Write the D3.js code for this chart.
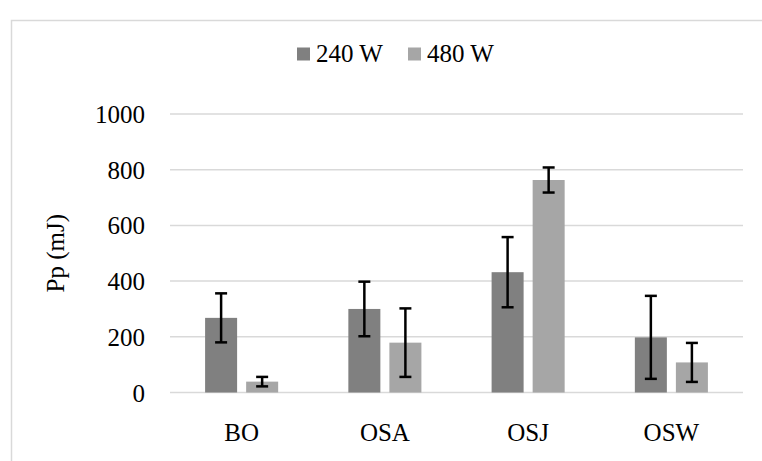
<!DOCTYPE html>
<html>
<head>
<meta charset="utf-8">
<script src="https://cdn.jsdelivr.net/npm/d3@7"></script>
<style>
  html, body { margin: 0; padding: 0; background: #fff; }
</style>
</head>
<body>
<div id="chart"></div>
<script>
// categories and series
const categories = ['BO', 'OSA', 'OSJ', 'OSW'];
const seriesNames = ['240 W', '480 W'];
const seriesColors = ['#808080', '#a6a6a6'];
const values240 = [268, 300, 432, 198];
const values480 = [39, 179, 763, 108];
const err240 = [88, 98, 126, 149];
const err480 = [17, 123, 45, 70];
const yTicks = [0, 200, 400, 600, 800, 1000];

const W = 762, H = 461;
const M = { top: 114, right: 19, bottom: 68.5, left: 170 };
const innerW = W - M.left - M.right, innerH = H - M.top - M.bottom;
const FS = 25;
const FONT = '"Liberation Serif"';

const svg = d3.select('#chart').append('svg').attr('width', W).attr('height', H);

// outer chart frame (cropped on right/bottom)
svg.append('path')
  .attr('d', `M11.5,${H} V20.5 H${W}`)
  .attr('fill', 'none').attr('stroke', '#d9d9d9').attr('stroke-width', 1.5);

const g = svg.append('g').attr('transform', `translate(${M.left},${M.top})`);

const x0 = d3.scaleBand().domain(categories).range([0, innerW]).paddingInner(0.49).paddingOuter(0.245);
const x1 = d3.scaleBand().domain(seriesNames).range([0, x0.bandwidth()]).paddingInner(0.22);
const y = d3.scaleLinear().domain([0, 1000]).range([innerH, 0]);

// gridlines
g.append('g')
  .selectAll('line').data(yTicks).join('line')
  .attr('x1', 0).attr('x2', innerW)
  .attr('y1', d => y(d)).attr('y2', d => y(d))
  .attr('stroke', '#d9d9d9').attr('stroke-width', 1.5);

// y axis labels
const yAx = g.append('g').attr('transform', 'translate(-25,0)')
  .call(d3.axisLeft(y).tickValues(yTicks).tickFormat(d3.format('d')).tickSize(0).tickPadding(0));
yAx.select('.domain').remove();
yAx.selectAll('text').style('font-family', FONT).attr('font-size', FS).attr('fill', '#000').attr('dy', '0.34em');

// x axis labels
const xAx = g.append('g').attr('transform', `translate(0,${innerH})`)
  .call(d3.axisBottom(x0).tickSize(0).tickPadding(31));
xAx.select('.domain').remove();
xAx.selectAll('text').style('font-family', FONT).attr('font-size', FS).attr('fill', '#000');

// y axis title
svg.append('text')
  .attr('transform', `translate(64,${M.top + innerH / 2}) rotate(-90)`)
  .attr('text-anchor', 'middle')
  .style('font-family', FONT)
  .attr('font-size', FS)
  .text('Pp (mJ)');

const rows = [];
categories.forEach((c, i) => {
  rows.push({ cat: c, s: seriesNames[0], v: values240[i], e: err240[i], col: seriesColors[0] });
  rows.push({ cat: c, s: seriesNames[1], v: values480[i], e: err480[i], col: seriesColors[1] });
});

g.selectAll('rect.bar').data(rows).join('rect').attr('class', 'bar')
  .attr('x', d => x0(d.cat) + x1(d.s))
  .attr('y', d => y(d.v))
  .attr('width', x1.bandwidth())
  .attr('height', d => innerH - y(d.v))
  .attr('fill', d => d.col);

// error bars
const eb = g.selectAll('g.err').data(rows).join('g').attr('class', 'err')
  .attr('transform', d => `translate(${x0(d.cat) + x1(d.s) + x1.bandwidth() / 2},0)`);
eb.append('line')
  .attr('y1', d => y(d.v + d.e)).attr('y2', d => y(d.v - d.e))
  .attr('stroke', '#000').attr('stroke-width', 2.5);
eb.append('line')
  .attr('x1', -6).attr('x2', 6)
  .attr('y1', d => y(d.v + d.e)).attr('y2', d => y(d.v + d.e))
  .attr('stroke', '#000').attr('stroke-width', 2.5);
eb.append('line')
  .attr('x1', -6).attr('x2', 6)
  .attr('y1', d => y(d.v - d.e)).attr('y2', d => y(d.v - d.e))
  .attr('stroke', '#000').attr('stroke-width', 2.5);

// legend
const leg = svg.append('g');
const legX = [297, 408];
seriesNames.forEach((s, i) => {
  leg.append('rect').attr('x', legX[i]).attr('y', 47.5).attr('width', 13).attr('height', 13).attr('fill', seriesColors[i]);
  leg.append('text').attr('x', legX[i] + 19).attr('y', 61.5)
    .style('font-family', FONT).attr('font-size', FS).attr('fill', '#000').text(s);
});
</script>
</body>
</html>
